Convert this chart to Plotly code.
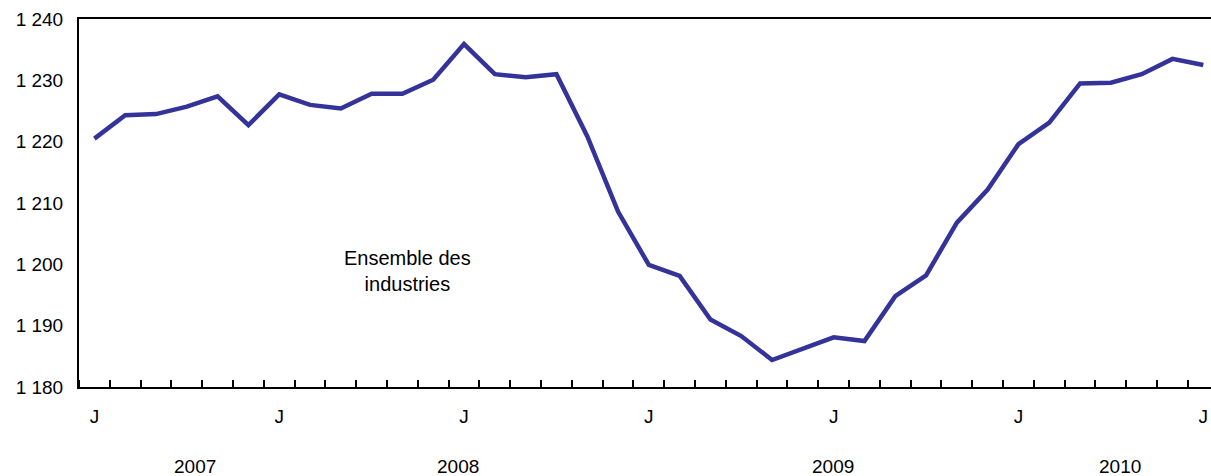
import plotly.graph_objects as go

# Monthly data, July 2007 to July 2010 (index 0 = July 2007)
months = list(range(37))
values = [1220.5, 1224.3, 1224.5, 1225.7, 1227.4, 1222.7, 1227.7, 1226.0, 1225.4,
          1227.8, 1227.8, 1230.1, 1235.9, 1231.0, 1230.5, 1231.0, 1220.9, 1208.6,
          1199.9, 1198.1, 1191.0, 1188.3, 1184.4, 1186.3, 1188.1, 1187.5, 1194.8,
          1198.2, 1206.8, 1212.2, 1219.6, 1223.1, 1229.5, 1229.6, 1231.0, 1233.5,
          1232.5]

x_tick_pos = [0, 6, 12, 18, 24, 30, 36]
x_tick_text = ["J", "J", "J", "J", "J", "J", "J"]

y_ticks = [1180, 1190, 1200, 1210, 1220, 1230, 1240]
y_tick_text = ["1 180", "1 190", "1 200", "1 210", "1 220", "1 230", "1 240"]

year_labels = ["2007", "2008", "2009", "2010"]
year_pos = [3.26, 11.8, 23.98, 33.3]

series_label = "Ensemble des<br>industries"
series_label_pos = (10.15, 1198.9)

FONT = "Liberation Sans, Arial, Helvetica, sans-serif"
LINE_COLOR = "#333399"

fig = go.Figure()
fig.add_trace(go.Scatter(
    x=months, y=values, mode="lines",
    line=dict(color=LINE_COLOR, width=4.5),
    hoverinfo="skip", showlegend=False,
))

fig.update_xaxes(
    range=[-0.5, 36.25],
    tickmode="array", tickvals=x_tick_pos, ticktext=x_tick_text,
    ticks="", showgrid=False, zeroline=False,
    showline=True, linecolor="black", linewidth=2, mirror=True,
    tickfont=dict(family=FONT, size=19, color="black"),
    ticklabelstandoff=11, ticklabeloverflow="allow",
    minor=dict(tick0=0.5, dtick=1, ticks="inside", ticklen=7,
               tickcolor="black", tickwidth=2, showgrid=False),
)
fig.update_yaxes(
    range=[1180, 1240],
    tickmode="array", tickvals=y_ticks, ticktext=y_tick_text,
    ticks="", showgrid=False, zeroline=False,
    showline=True, linecolor="black", linewidth=2, mirror=False,
    tickfont=dict(family=FONT, size=19, color="black"),
    ticklabelstandoff=10,
)

annotations = []
for lbl, pos in zip(year_labels, year_pos):
    annotations.append(dict(
        x=pos, y=0, xref="x", yref="paper", text=lbl, showarrow=False,
        xanchor="center", yanchor="middle", yshift=-79,
        font=dict(family=FONT, size=19, color="black"),
    ))
annotations.append(dict(
    x=series_label_pos[0], y=series_label_pos[1], xref="x", yref="y",
    text=series_label, showarrow=False, xanchor="center", yanchor="middle",
    align="center", font=dict(family=FONT, size=20, color="black"),
))

fig.update_layout(
    width=1211, height=476,
    margin=dict(l=79, r=0, t=19, b=89),
    paper_bgcolor="white", plot_bgcolor="white",
    annotations=annotations,
)

fig.write_html(
    "out.html",
    config={"displayModeBar": False, "staticPlot": True},
    post_script="document.body.style.margin='0';"
                "document.documentElement.style.overflow='hidden';"
                "document.body.style.overflow='hidden';",
)
